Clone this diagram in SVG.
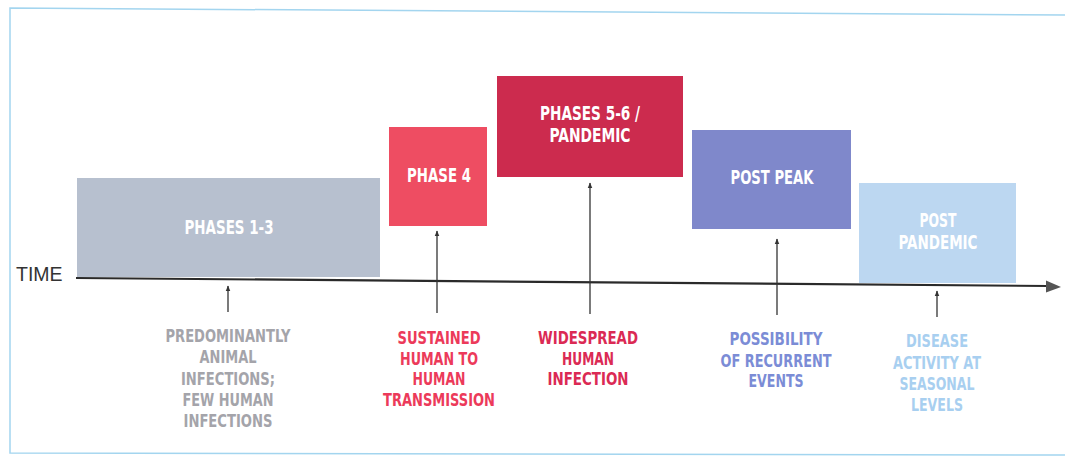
<svg xmlns="http://www.w3.org/2000/svg" width="1065" height="457" viewBox="0 0 1065 457">
<style>
.box-label{font-family:"Liberation Sans Narrow","DejaVu Sans Condensed","Liberation Sans",sans-serif;font-weight:bold;font-size:19px;fill:#ffffff;text-anchor:middle}
.desc{font-family:"Liberation Sans Narrow","DejaVu Sans Condensed","Liberation Sans",sans-serif;font-weight:bold;font-size:17.5px;text-anchor:middle}
.grey{fill:#a4a4aa}
.red{fill:#ec3a5a}
.crimson{fill:#db2a54}
.blue{fill:#7b8cd6}
.lblue{fill:#a8cff0}
.pointer{stroke:#333;stroke-width:1.3;fill:none;marker-end:url(#tip)}
</style>
<defs>
<marker id="tip" viewBox="0 0 10 10" refX="9" refY="5" markerWidth="6" markerHeight="6" markerUnits="userSpaceOnUse" orient="auto">
<path d="M0,1 L10,5 L0,9 z" fill="#333"/>
</marker>
</defs>
<rect width="1065" height="457" fill="#ffffff"/>
<polyline points="1065,15 10,8 10,453 1065,455" fill="none" stroke="#a3d5ef" stroke-width="1.5"/>

<g id="phases-1-3">
<rect x="77" y="178" width="303" height="99" fill="#b7c0cf"/>
<text class="box-label" x="229" y="233.5" textLength="89" lengthAdjust="spacingAndGlyphs">PHASES 1-3</text>
</g>
<g id="phase-4">
<rect x="389" y="127" width="98" height="99" fill="#ee4d62"/>
<text class="box-label" x="439" y="181.5" textLength="64" lengthAdjust="spacingAndGlyphs">PHASE 4</text>
</g>
<g id="phases-5-6">
<rect x="497" y="76" width="186" height="101" fill="#cc2b4e"/>
<text class="box-label" x="590" y="119.5" textLength="100" lengthAdjust="spacingAndGlyphs">PHASES 5-6 /</text>
<text class="box-label" x="590" y="141.5" textLength="81" lengthAdjust="spacingAndGlyphs">PANDEMIC</text>
</g>
<g id="post-peak">
<rect x="692" y="130" width="159" height="99" fill="#7f88cb"/>
<text class="box-label" x="772" y="183.5" textLength="83" lengthAdjust="spacingAndGlyphs">POST PEAK</text>
</g>
<g id="post-pandemic">
<rect x="859" y="183" width="157" height="100" fill="#bcd7f1"/>
<text class="box-label" x="938" y="226.5" textLength="37" lengthAdjust="spacingAndGlyphs">POST</text>
<text class="box-label" x="938" y="248.5" textLength="79" lengthAdjust="spacingAndGlyphs">PANDEMIC</text>
</g>

<g id="time-axis">
<text x="16" y="281" font-family="'Liberation Sans',sans-serif" font-size="19.5" fill="#333">TIME</text>
<line x1="76" y1="278" x2="1048" y2="286" stroke="#2a2a2a" stroke-width="2.2"/>
<path d="M1046,280.5 L1061,287 L1046,292.5 z" fill="#555"/>
</g>

<g id="connectors">
<line class="pointer" x1="228" y1="312" x2="228" y2="286"/>
<line class="pointer" x1="437" y1="313" x2="437" y2="231"/>
<line class="pointer" x1="590" y1="314" x2="590" y2="183"/>
<line class="pointer" x1="777" y1="315" x2="777" y2="239"/>
<line class="pointer" x1="937" y1="317" x2="937" y2="291"/>
</g>

<g id="desc-phases-1-3" class="desc grey">
<text x="228" y="342" textLength="125" lengthAdjust="spacingAndGlyphs">PREDOMINANTLY</text>
<text x="228" y="363" textLength="57" lengthAdjust="spacingAndGlyphs">ANIMAL</text>
<text x="228" y="384.5" textLength="94" lengthAdjust="spacingAndGlyphs">INFECTIONS;</text>
<text x="228" y="406" textLength="91" lengthAdjust="spacingAndGlyphs">FEW HUMAN</text>
<text x="228" y="427" textLength="89" lengthAdjust="spacingAndGlyphs">INFECTIONS</text>
</g>
<g id="desc-phase-4" class="desc red">
<text x="439" y="344" textLength="83" lengthAdjust="spacingAndGlyphs">SUSTAINED</text>
<text x="439" y="364.5" textLength="78" lengthAdjust="spacingAndGlyphs">HUMAN TO</text>
<text x="439" y="385" textLength="53" lengthAdjust="spacingAndGlyphs">HUMAN</text>
<text x="439" y="405.5" textLength="112" lengthAdjust="spacingAndGlyphs">TRANSMISSION</text>
</g>
<g id="desc-phases-5-6" class="desc crimson">
<text x="588" y="344" textLength="100" lengthAdjust="spacingAndGlyphs">WIDESPREAD</text>
<text x="588" y="364.5" textLength="52" lengthAdjust="spacingAndGlyphs">HUMAN</text>
<text x="588" y="385" textLength="81" lengthAdjust="spacingAndGlyphs">INFECTION</text>
</g>
<g id="desc-post-peak" class="desc blue">
<text x="776" y="345" textLength="93" lengthAdjust="spacingAndGlyphs">POSSIBILITY</text>
<text x="776" y="366.5" textLength="111" lengthAdjust="spacingAndGlyphs">OF RECURRENT</text>
<text x="776" y="387" textLength="55" lengthAdjust="spacingAndGlyphs">EVENTS</text>
</g>
<g id="desc-post-pandemic" class="desc lblue">
<text x="937" y="347" textLength="62" lengthAdjust="spacingAndGlyphs">DISEASE</text>
<text x="937" y="368.5" textLength="88" lengthAdjust="spacingAndGlyphs">ACTIVITY AT</text>
<text x="937" y="389.5" textLength="75" lengthAdjust="spacingAndGlyphs">SEASONAL</text>
<text x="937" y="410.5" textLength="52" lengthAdjust="spacingAndGlyphs">LEVELS</text>
</g>
</svg>
